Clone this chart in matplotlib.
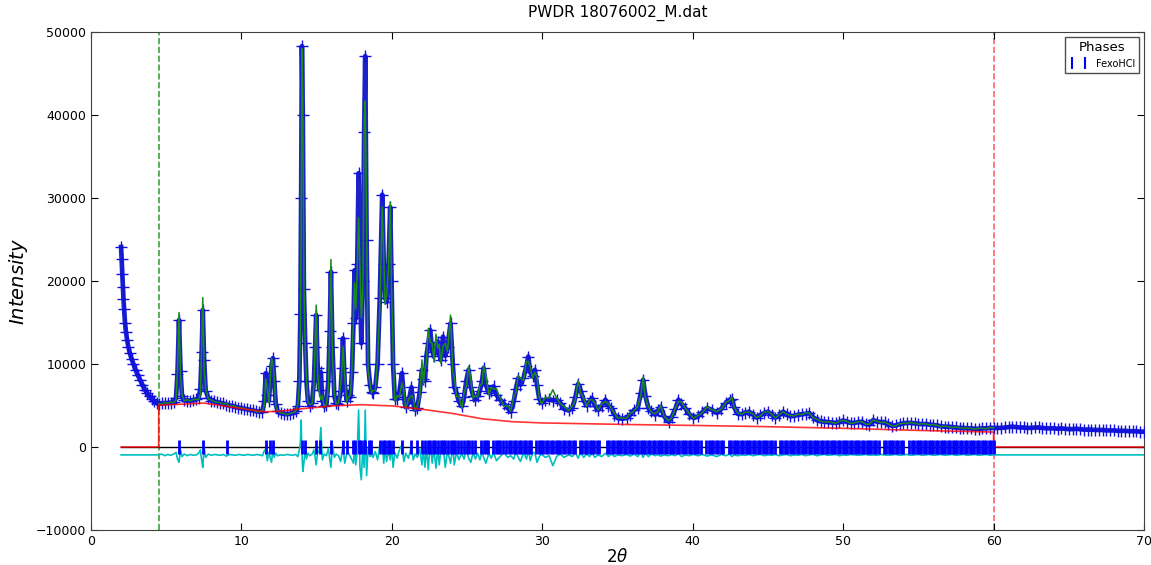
import numpy as np
import matplotlib
matplotlib.use('Agg')
import matplotlib.pyplot as plt
from matplotlib.lines import Line2D

# ------------------------------------------------------------------
# data (2theta in deg, intensity in counts)
# ------------------------------------------------------------------
# below the refined range: observed only
tth_low = [2.0, 2.04, 2.08, 2.12, 2.16, 2.2, 2.26, 2.32, 2.4, 2.48, 2.58, 2.7,
           2.82, 2.96, 3.1, 3.26, 3.42, 3.58, 3.74, 3.9, 4.06, 4.22, 4.38]
obs_low = [24100, 22600, 20900, 19300, 17800, 16600, 15000, 13900, 12900, 12100,
           11300, 10600, 10000, 9300, 8700, 8100, 7500, 6900, 6500, 6100, 5800,
           5500, 5300]

# refined range 4.5 - 60 (one line per stretch, same count in the three lists)
tth_fit = [
    4.5, 4.7, 4.9, 5.1, 5.3, 5.5, 5.65, 5.75, 5.85, 5.95, 6.05, 6.2, 6.4, 6.6, 6.8, 7.0, 7.15, 7.27, 7.36, 7.43, 7.52, 7.62, 7.8,
    8.0, 8.2, 8.4, 8.6, 8.8, 9.0, 9.2, 9.4, 9.6, 9.8, 10.0, 10.2, 10.4, 10.6, 10.8, 11.0, 11.2, 11.4,
    11.52, 11.62, 11.72, 11.82, 11.92, 12.0, 12.09, 12.18, 12.28, 12.4, 12.6, 12.8, 13.0, 13.2, 13.4, 13.6, 13.75,
    13.85, 13.92, 13.97, 14.02, 14.08, 14.15, 14.24, 14.32, 14.42, 14.55, 14.7, 14.82, 14.9, 14.97, 15.07, 15.17, 15.28, 15.38, 15.5, 15.65, 15.78, 15.87, 15.95, 16.05, 16.18, 16.3,
    16.45, 16.6, 16.68, 16.75, 16.87, 17.0, 17.1, 17.25, 17.35, 17.45, 17.52, 17.6, 17.7, 17.79, 17.88, 17.97, 18.07, 18.16, 18.23, 18.32, 18.42, 18.55, 18.65, 18.74,
    18.9, 19.05, 19.2, 19.36, 19.46, 19.55, 19.65, 19.78, 19.89, 19.98, 20.08, 20.2, 20.35, 20.5, 20.67, 20.8, 20.92, 21.1, 21.3, 21.42, 21.55, 21.7,
    21.85, 22.0, 22.1, 22.2, 22.3, 22.42, 22.55, 22.68, 22.8, 22.93, 23.05, 23.15, 23.25, 23.4, 23.55, 23.7, 23.9, 24.05, 24.15, 24.3,
    24.45, 24.65, 24.8, 24.95, 25.1, 25.25, 25.4, 25.55, 25.7, 25.85, 26.0, 26.1, 26.25, 26.45, 26.6, 26.76, 26.95, 27.2,
    27.45, 27.7, 27.9, 28.1, 28.25, 28.4, 28.55, 28.75, 28.95, 29.07, 29.2, 29.35, 29.5, 29.65, 29.8, 29.95, 30.2,
    30.45, 30.7, 30.95, 31.2, 31.45, 31.75, 32.0, 32.2, 32.38, 32.55, 32.75, 32.95, 33.15, 33.3, 33.5, 33.7,
    33.95, 34.2, 34.4, 34.6, 34.8, 35.0, 35.3, 35.6, 35.85, 36.1, 36.35, 36.55, 36.7, 36.85, 37.05,
    37.25, 37.5, 37.7, 37.86, 38.1, 38.4, 38.6, 38.85, 39.05, 39.25, 39.5, 39.75, 40.05, 40.35,
    40.65, 40.95, 41.25, 41.6, 41.9, 42.2, 42.45, 42.6, 42.75, 43.0,
    43.25, 43.5, 43.75, 44.0, 44.25, 44.5, 44.75, 45.0, 45.25, 45.5, 45.75, 46.0, 46.25, 46.5, 46.75, 47.0, 47.25, 47.5,
    47.75, 48.0, 48.25, 48.5, 48.75, 49.0, 49.25, 49.5, 49.75, 50.0, 50.25, 50.5, 50.75, 51.0, 51.25, 51.5, 51.75,
    52.0, 52.25, 52.5, 52.75, 53.0, 53.25, 53.5, 53.75, 54.0, 54.25, 54.5, 54.75, 55.0, 55.25, 55.5, 55.75,
    56.0, 56.25, 56.5, 56.75, 57.0, 57.25, 57.5, 57.75, 58.0, 58.25, 58.5, 58.75, 59.0, 59.25, 59.5, 59.75, 60.0]
obs_fit = [
    5200, 5250, 5300, 5300, 5350, 5450, 5900, 8800, 15300, 9200, 6100, 5650, 5600, 5600, 5650, 5750, 5900, 7000, 11500, 16500, 10500, 6800, 5900,
    5600, 5500, 5400, 5300, 5250, 5100, 5000, 4950, 4850, 4750, 4700, 4600, 4550, 4450, 4400, 4300, 4250, 4250,
    5500, 8900, 6300, 5600, 7800, 9800, 10700, 8000, 5200, 4300, 4100, 4000, 3950, 4000, 4100, 4300, 4900,
    8000, 16000, 30000, 48300, 40000, 19000, 12500, 8000, 5600, 5000, 5300, 8000, 12000, 15900, 9500, 6900, 9000, 5600, 4900, 5100, 8000, 14000, 21100, 12000, 6100, 5300,
    5200, 6800, 9500, 13100, 7500, 5600, 6300, 6000, 9000, 15000, 21300, 15500, 22000, 33000, 20000, 12500, 20000, 38000, 47100, 25000, 10000, 7500, 6600, 6500,
    7200, 10000, 18000, 30400, 22000, 18000, 17500, 22000, 28900, 20000, 10000, 5800, 5800, 6600, 8900, 6000, 4800, 5300, 7200, 5300, 4500, 4700,
    6600, 9300, 8200, 8000, 11000, 12500, 14100, 11500, 11000, 12000, 12700, 11200, 10500, 13300, 11000, 12000, 14900, 10000, 7200, 6500,
    5500, 4900, 6000, 8000, 9300, 7200, 6200, 5700, 6200, 6800, 8000, 9500, 7500, 6500, 6800, 7300, 6300, 5700,
    5200, 4700, 4250, 5500, 7000, 8300, 7500, 8300, 9800, 10900, 9000, 8500, 9300, 7500, 5800, 5300, 5700,
    5800, 5600, 5700, 5300, 4600, 4400, 4700, 6000, 7600, 6800, 5600, 5000, 5500, 5900, 5000, 4450,
    5000, 5700, 5000, 4700, 3900, 3500, 3400, 3500, 3900, 4450, 4700, 6500, 8100, 6200, 4700,
    4300, 3900, 4400, 4850, 3700, 3050, 3600, 4600, 5700, 5200, 4700, 4000, 3500, 3700,
    4200, 4700, 4500, 4100, 4600, 5300, 5700, 5800, 4800, 4000,
    3950, 4150, 4250, 3900, 3550, 3800, 4100, 4250, 3900, 3550, 3800, 4250, 4000, 3700, 3750, 3900, 3950, 4000,
    4100, 3600, 3250, 3100, 3050, 3000, 2950, 2900, 3000, 3200, 3050, 2900, 2900, 3000, 3050, 2800, 2700,
    3250, 3050, 3000, 3000, 2750, 2550, 2600, 2750, 2850, 2900, 2900, 2850, 2800, 2750, 2770, 2700,
    2650, 2600, 2500, 2450, 2450, 2400, 2350, 2300, 2300, 2250, 2250, 2200, 2200, 2250, 2250, 2300, 2300]
# obs - calc
diff_fit = [
    0, 100, -100, 50, -50, 100, 300, -500, -900, 600, -200, 100, -100, 50, -50, 0, 200, 600, -700, -1500, 900, -300, 100,
    -50, 50, 0, -50, 50, -150, 50, 0, -50, 50, 0, -50, 50, 0, -50, 50, 0, -100,
    500, 700, -700, 300, -400, -900, 600, -300, 200, -100, 0, -50, 50, 0, -50, 50, -200,
    600, 1500, 4200, 300, -2000, -1000, 800, -500, 200, -100, 100, 600, -300, -1200, 500, 300, 3300, -600, 100, -100, 800, -500, -1500, 1200, -300, 100,
    -100, -800, 300, 1000, -1000, 200, 300, -300, -600, -1000, 1500, -1200, 500, 5400, -1500, -3000, 1000, -1500, 5400, -2500, 800, -200, 100, -300,
    400, -600, 1200, 1500, -1000, 800, -800, 600, -600, 1200, -1500, 300, -400, 600, 1200, -800, 200, -400, 1000, -600, 100, -300,
    800, -1200, 600, -1500, 900, -1800, 1500, -1000, 700, -1600, 800, -1200, 400, 1200, -1500, 500, -1000, 1000, -1200, 400,
    -600, 200, -500, 700, -400, -900, 300, -500, 200, -600, 400, -300, -1000, 200, -400, 300, -700, -200,
    300, -300, -100, -500, 400, -300, -800, 300, -500, 600, -700, 200, 300, -900, -200, 100, -300,
    -100, -1300, -200, 100, -300, 0, -200, 300, -400, 300, -300, 100, -200, 200, -300, 0,
    -200, 200, -200, 100, -200, 0, -100, 50, -150, 100, -200, 300, -300, 200, -200,
    100, -100, 50, -150, 0, -100, 50, -100, 200, -200, 0, -100, 50, -100,
    50, -150, 0, -200, 50, -100, 100, -200, 0, -100,
    0, -50, 50, -100, 0, 50, -100, 0, -50, 50, -100, 0, 50, -100, 0, -50, 50, -100,
    0, 50, -100, 0, 50, -50, 0, 50, -100, 0, -50, 50, 0, -50, 0, 50, -50,
    0, -50, 50, 0, -50, 0, 50, -50, 0, 50, -50, 0, 50, -50, 0, 50,
    -50, 0, 50, -50, 0, 50, -50, 0, 50, -50, 0, 50, -50, 0, 50, -50, 0]

# above the refined range: observed only
tth_high = [60.25, 60.5, 60.75, 61.0, 61.25, 61.5, 61.75, 62.0, 62.25, 62.5, 62.75,
            63.0, 63.25, 63.5, 63.75, 64.0, 64.25, 64.5, 64.75, 65.0, 65.25, 65.5,
            65.75, 66.0, 66.25, 66.5, 66.75, 67.0, 67.25, 67.5, 67.75, 68.0, 68.25,
            68.5, 68.75, 69.0, 69.25, 69.5, 69.75, 70.0]
obs_high = [2300, 2300, 2350, 2400, 2450, 2400, 2350, 2350, 2300, 2300, 2350, 2350,
            2300, 2250, 2250, 2250, 2200, 2250, 2200, 2150, 2150, 2200, 2150, 2100,
            2100, 2100, 2050, 2050, 2050, 2000, 2000, 2000, 1950, 1950, 1950, 1900,
            1900, 1900, 1850, 1850]

# background (red)
bg_tth = [2.0, 4.5, 4.5, 6, 7.5, 9, 10.5, 11.5, 12.5, 14, 16, 18, 20, 22, 24, 26,
          28, 30, 33, 36, 40, 45, 50, 55, 60, 60, 70]
bg_int = [0, 0, 5050, 5150, 5300, 4900, 4500, 4250, 4300, 4600, 4950, 5100, 4950,
          4550, 4050, 3400, 3050, 2900, 2800, 2700, 2600, 2450, 2250, 2000, 1800, 0, 0]

# reflection positions for FexoHCl
refl_tth = [
    5.85, 7.43, 9.03, 11.62, 11.91, 12.09, 14.02, 14.24, 14.97, 15.24, 15.93, 16.78,
    17.02, 17.42, 17.58, 17.79, 17.95, 18.12, 18.24, 18.45, 18.62, 19.2, 19.38,
    19.55, 19.72, 19.9, 20.06, 20.67, 21.3, 21.67, 22.02, 22.2, 22.38, 22.56, 22.72,
    22.9, 23.08, 23.24, 23.4, 23.56, 23.72, 23.9, 24.06, 24.22, 24.4, 24.62, 24.8,
    24.97, 25.14, 25.3, 25.5, 25.95, 26.1, 26.26, 26.42, 26.72, 26.9, 27.06, 27.22,
    27.4, 27.58, 27.76, 27.94, 28.1, 28.26, 28.44, 28.6, 28.78, 28.94, 29.1, 29.26,
    29.6, 29.76, 29.92, 30.08, 30.24, 30.4, 30.56, 30.72, 30.88, 31.04, 31.2, 31.36,
    31.52, 31.7, 31.86, 32.02, 32.18, 32.5, 32.66, 32.82, 32.98, 33.14, 33.3, 33.46,
    33.62, 33.78, 34.3, 34.46, 34.62, 34.78, 34.94, 35.1, 35.26, 35.42, 35.58, 35.74,
    35.9, 36.06, 36.22, 36.38, 36.54, 36.7, 36.86, 37.02, 37.18, 37.34, 37.5, 37.66,
    37.82, 37.98, 38.14, 38.3, 38.46, 38.62, 38.78, 38.94, 39.1, 39.26, 39.42, 39.58,
    39.74, 39.9, 40.06, 40.22, 40.38, 40.54, 40.9, 41.06, 41.22, 41.38, 41.54, 41.7,
    41.86, 42.02, 42.4, 42.56, 42.72, 42.88, 43.04, 43.2, 43.36, 43.52, 43.68, 43.84,
    44.0, 44.16, 44.32, 44.48, 44.64, 44.8, 44.96, 45.12, 45.28, 45.44, 45.8, 45.96,
    46.12, 46.28, 46.44, 46.6, 46.76, 46.92, 47.08, 47.24, 47.4, 47.56, 47.72, 47.88,
    48.04, 48.2, 48.36, 48.52, 48.68, 48.84, 49.0, 49.16, 49.32, 49.48, 49.64, 49.8,
    49.96, 50.12, 50.28, 50.44, 50.6, 50.76, 50.92, 51.08, 51.24, 51.4, 51.56, 51.72,
    51.88, 52.04, 52.2, 52.36, 52.7, 52.86, 53.02, 53.18, 53.34, 53.5, 53.66, 53.82,
    53.98, 54.4, 54.56, 54.72, 54.88, 55.04, 55.2, 55.36, 55.52, 55.68, 55.84, 56.0,
    56.16, 56.32, 56.48, 56.64, 56.8, 56.96, 57.12, 57.28, 57.44, 57.6, 57.76, 57.92,
    58.08, 58.24, 58.4, 58.56, 58.72, 58.88, 59.04, 59.2, 59.36, 59.52, 59.68, 59.84,
    60.0]

limits = (4.5, 60.0)
diff_offset = -950
phase_name = 'FexoHCl'
title = 'PWDR 18076002_M.dat'

# ------------------------------------------------------------------
# derived curves
# ------------------------------------------------------------------
assert len(tth_fit) == len(obs_fit) == len(diff_fit)
tth_all = np.array(tth_low + tth_fit + tth_high)
obs_all = np.array(obs_low + obs_fit + obs_high, dtype=float)
calc_fit = np.array(obs_fit, dtype=float) - np.array(diff_fit, dtype=float)
diff_all = np.concatenate([np.zeros(len(tth_low)), diff_fit,
                           np.zeros(len(tth_high))]) + diff_offset

# ------------------------------------------------------------------
# plot
# ------------------------------------------------------------------
fig = plt.figure(figsize=(11.51, 5.65), dpi=100)
ax = fig.add_axes([91 / 1151, 35 / 565, 1053 / 1151, 498 / 565])

ax.axvline(limits[0], color='g', ls='--', lw=1.2, alpha=0.75, zorder=1)
ax.axvline(limits[1], color='r', ls='--', lw=1.2, alpha=0.6, zorder=1)
ax.plot([tth_all[0], tth_all[-1]], [0, 0], color='k', lw=1.0, zorder=2)

# observed: dense crosses in the original form a band, so a line under the marks
ax.plot(tth_all, obs_all, '-', color='#1a22c8', lw=3.4, zorder=3)
ax.plot(tth_all, obs_all, '+', color='#1010e0', ms=8, mew=1.0, zorder=4)
ax.plot(tth_fit, calc_fit, color='#1a8a1a', lw=1.1, zorder=5)
ax.plot(bg_tth, bg_int, color='r', lw=1.2, alpha=0.8, zorder=6)
ax.plot(tth_all, diff_all, color='c', lw=1.2, zorder=6)
ax.plot(refl_tth, np.zeros(len(refl_tth)), '|', color='b', ms=10, mew=2.0, zorder=7)

ax.set_xlim(0, 70)
ax.set_ylim(-10000, 50000)
ax.set_xticks(np.arange(0, 71, 10))
ax.set_yticks(np.arange(-10000, 50001, 10000))
ax.tick_params(direction='in', top=True, right=True, length=5, labelsize=9)
for s in ax.spines.values():
    s.set_color('0.25')

ax.set_title(title, fontsize=11, pad=11)
ax.set_xlabel(r'$2\theta$', fontsize=12, labelpad=0)
ax.set_ylabel(r'$Intensity$', fontsize=14)

handle = Line2D([], [], marker='|', color='b', ls='none', ms=8, mew=1.5)
leg = ax.legend([handle], [phase_name], title='Phases', loc='upper right',
                numpoints=2, fontsize=7, title_fontsize=9.5, fancybox=False,
                edgecolor='0.3', framealpha=1.0, borderaxespad=0.5)

fig.savefig('out.png', dpi=100)
